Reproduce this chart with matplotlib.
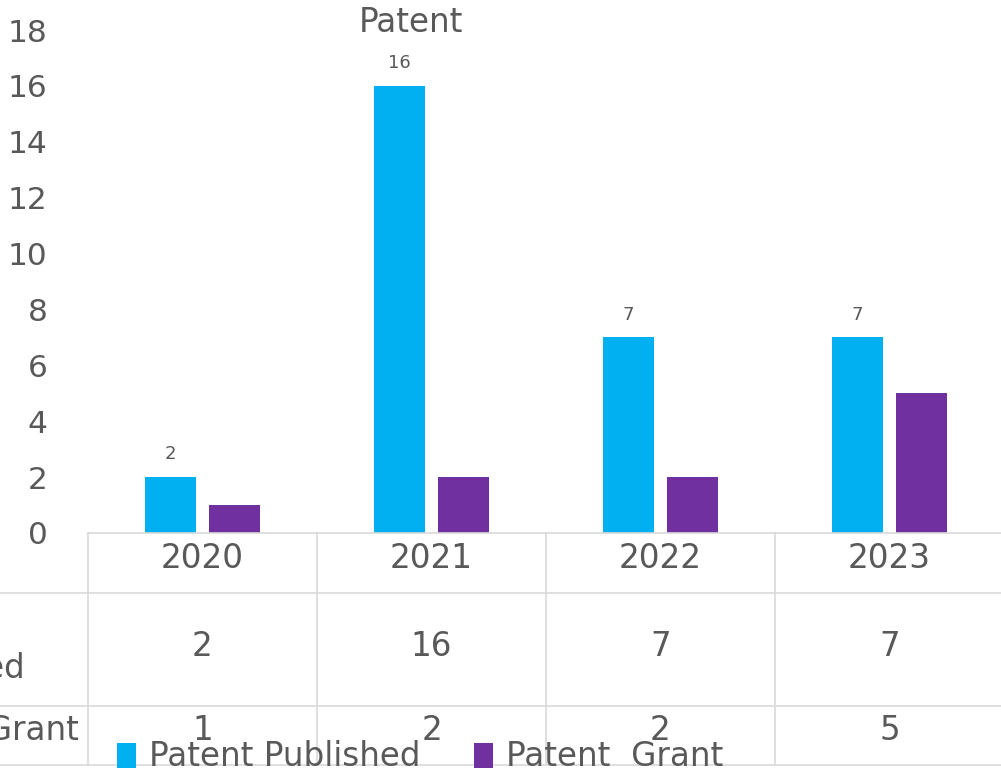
import matplotlib
matplotlib.use("Agg")
import matplotlib.pyplot as plt
import matplotlib.transforms as mtransforms
import numpy as np

years = ["2020", "2021", "2022", "2023"]
published = [2, 16, 7, 7]
granted = [1, 2, 2, 5]
series_names = ["Patent Published", "Patent  Grant"]
row_labels = ["Patent\nPublished", "Patent Grant"]
yticks = [0, 2, 4, 6, 8, 10, 12, 14, 16, 18]

BLUE = "#00B0F0"
PURPLE = "#7030A0"
TXT = "#595959"
GRID = "#D9D9D9"
FS = 23.5

plt.rcParams['font.family'] = ['DejaVu Sans']

W, H = 1001, 772
fig = plt.figure(figsize=(W / 100, H / 100), dpi=100)

def fx(px):
    return px / W

def fy(py):
    return 1 - py / H

ax_left, ax_right, ax_top, ax_bottom = 88, 1004, 30, 533
ax = fig.add_axes([fx(ax_left), fy(ax_bottom), fx(ax_right - ax_left), fy(ax_top) - fy(ax_bottom)])

x = np.arange(len(years))
bw = 0.22
off = 0.14
b1 = ax.bar(x - off, published, bw, color=BLUE, label=series_names[0])
b2 = ax.bar(x + off, granted, bw, color=PURPLE, label=series_names[1])
ax.bar_label(b1, labels=[str(v) for v in published], padding=10, fontsize=13, color=TXT)

ax.set_xlim(-0.5, len(years) - 0.5)
ax.set_ylim(0, 18)
ax.set_yticks(yticks)
ax.set_yticklabels([str(t) for t in yticks], fontsize=22.5, color=TXT)
ax.tick_params(axis='y', length=0, pad=29)
ax.set_xticks([])
for s in ax.spines.values():
    s.set_visible(False)

# data table
trans = mtransforms.blended_transform_factory(ax.transData, fig.transFigure)
edges = np.arange(len(years) + 1) - 0.5
row_y = [533, 593, 706, 765]
for e in edges:
    ax.plot([e, e], [fy(row_y[0]), fy(row_y[-1])], color=GRID, lw=1.2, transform=trans, clip_on=False)
ax.plot([edges[0], edges[-1]], [fy(row_y[0])] * 2, color=GRID, lw=1.2, transform=trans, clip_on=False)
for ry in row_y[1:]:
    fig.add_artist(plt.Line2D([0, 1], [fy(ry)] * 2, color=GRID, lw=1.2, transform=fig.transFigure))

for i, yr in enumerate(years):
    ax.text(i, fy(559), yr, transform=trans, ha='center', va='center', fontsize=FS, color=TXT)
    ax.text(i, fy(646), str(published[i]), transform=trans, ha='center', va='center', fontsize=FS, color=TXT)
    ax.text(i, fy(730), str(granted[i]), transform=trans, ha='center', va='center', fontsize=FS, color=TXT)

lbl_lines = row_labels[0].split("\n")
fig.text(fx(-131), fy(618), lbl_lines[0], ha='left', va='center', fontsize=FS, color=TXT)
fig.text(fx(-131), fy(668), lbl_lines[1], ha='left', va='center', fontsize=FS, color=TXT)
fig.text(fx(-128), fy(730), row_labels[1], ha='left', va='center', fontsize=FS, color=TXT)

fig.text(fx(411), fy(22), "Patent", ha='center', va='center', fontsize=FS, color=TXT)

leg = fig.legend(handles=[b1, b2], labels=series_names, loc='center left',
                 bbox_to_anchor=(fx(117), fy(757)), ncol=2, frameon=False,
                 fontsize=FS, handlelength=0.58, handleheight=0.8, handletextpad=0.4,
                 columnspacing=1.65, borderpad=0, borderaxespad=0, labelcolor=TXT)

fig.savefig("out.png", dpi=100, facecolor="white")
